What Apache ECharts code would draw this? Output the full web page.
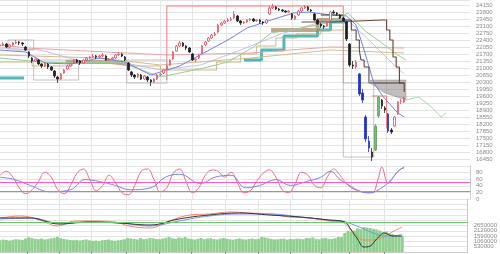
<!DOCTYPE html>
<html><head><meta charset="utf-8">
<script src="https://cdn.jsdelivr.net/npm/echarts@6/dist/echarts.min.js"></script>
<style>html,body{margin:0;padding:0;background:#fff}#c{width:500px;height:254px}</style>
</head><body><div id="c"></div>
<script>
// ---------- DATA ----------
const monthStarts = [17,37,57,79,100,120,141,162,182,201,219,241];
const monthLabels = ['5','6','7','8','9','10','11','12','1','2','3','4'];
// daily candles sampled every 2 trading days: [open, close, low, high]
const ohlc = [
[22100,22150,22050,22250],[22150,22200,22100,22300],[22200,22050,22000,22250],[22050,22150,22000,22200],
[22150,22250,22100,22300],[22250,22300,22200,22400],[22300,22250,22150,22350],[22250,22200,22100,22300],
[22050,21900,21850,22100],[21800,21600,21500,21850],[21500,21350,21250,21550],[21350,21450,21300,21500],
[21400,21200,21150,21450],[21200,21100,21000,21250],[21100,21250,21050,21300],[21200,21050,20950,21250],
[21050,20900,20850,21100],[20850,20600,20500,20900],[20550,20450,20250,20600],[20450,20700,20400,20750],
[20750,20900,20700,20950],[20950,21100,20900,21150],[21100,21200,21050,21250],[21250,21400,21200,21450],
[21400,21300,21250,21450],[21350,21250,21150,21400],[21250,21400,21200,21450],[21400,21500,21350,21550],
[21500,21550,21450,21600],[21550,21600,21500,21700],[21600,21550,21450,21650],[21550,21600,21500,21650],
[21600,21650,21550,21750],[21600,21400,21350,21650],[21400,21450,21350,21500],[21450,21500,21400,21550],
[21500,21650,21450,21700],[21650,21700,21600,21800],[21700,21600,21550,21750],[21550,21400,21350,21600],
[21250,20900,20850,21300],[20800,20650,20550,20850],[20650,20550,20450,20700],[20550,20700,20500,20750],
[20650,20450,20400,20700],[20450,20600,20400,20650],[20550,20400,20300,20600],[20400,20300,20100,20450],
[20300,20450,20250,20500],[20450,20650,20400,20700],[20650,20700,20600,20750],[20750,20900,20700,20950],
[20950,21100,20900,21150],[21150,21400,21100,21450],[21450,21800,21400,21850],[21850,22100,21800,22150],
[22100,22250,22050,22350],[22250,22100,22050,22300],[22100,22000,21900,22150],[22000,21800,21750,22050],
[21700,21400,21350,21750],[21400,21450,21300,21500],[21500,21650,21450,21700],[21750,22100,21700,22150],
[22150,22300,22100,22350],[22350,22500,22300,22550],[22500,22650,22450,22700],[22650,22700,22600,22800],
[22800,23150,22750,23200],[23150,23250,23100,23300],[23250,23350,23200,23400],[23350,23400,23300,23500],
[23400,23450,23350,23550],[23500,23700,23450,23850],[23600,23350,23300,23650],[23350,23250,23150,23400],
[23250,23300,23200,23350],[23300,23400,23250,23450],[23400,23450,23350,23500],[23450,23350,23300,23500],
[23350,23400,23300,23450],[23400,23300,23200,23450],[23300,23250,23150,23350],[23250,23400,23200,23450],
[23700,24000,23650,24100],[24000,24050,23950,24200],[24050,23950,23900,24100],[23950,23900,23850,24000],
[23900,23850,23800,23950],[23850,23800,23750,23900],[23800,23850,23750,23900],[23700,23500,23400,23750],
[23450,23600,23400,23650],[23650,23850,23600,23900],[23850,24000,23800,24050],[24000,24050,23950,24150],
[24050,23900,23850,24100],[23900,23850,23800,23950],[23700,23400,23350,23750],[23400,23200,23150,23450],
[23200,23100,23000,23250],[23100,23050,22950,23150],[23100,23300,23050,23350],[23400,23800,23350,23850],
[23800,23750,23700,23900],[23750,23700,23600,23800],[23650,23500,23450,23700],[23500,23350,23300,23550],
[23300,22450,22350,23350],[22200,21150,21050,22250],[21150,21100,20950,21350],[21050,21300,20950,21400],
[20700,19700,19600,20750],[19750,19400,19250,19950],[18550,17450,17300,18650],[17350,17000,16800,17600],
[16800,16550,16350,17000],[16900,18100,16850,18200],[18600,19550,18500,19600],[19400,19100,18950,19450],
[19000,18900,18750,19100],[18700,17850,17750,18750],[17900,17800,17700,18000],[18100,18550,18050,18600],
[18700,19300,18650,19350],[19350,19350,19200,19450],[19300,19500,19250,19550]
];
const volume = [
118,124,120,115,122,128,125,121,135,148, 140,132,128,135,126,130,138,142,150,138,
130,125,120,118,122,115,120,125,118,112, 115,110,118,120,125,116,112,118,122,128,
140,135,130,125,138,128,132,140,136,130, 128,135,142,150,138,132,145,140,150,135,
130,125,132,140,128,135,138,130,126,134, 140,132,128,124,130,136,128,125,130,135,
128,132,150,145,138,130,126,128,132,135, 124,130,128,135,132,128,140,138,145,132,
128,136,140,132,130,138,150,148,190,210, 205,215,235,228,250,245,240,232,225,215,
200,205,190,180,170,165,160
];
// moving averages / indicator lines: [tradingDay, value]
const ma25 = [[0,21900],[16,21800],[28,21250],[44,21200],[62,21500],[78,21300],[94,20650],[100,20800],[112,21100],[127,21750],[142,22400],[154,23000],[169,23400],[183,23750],[192,23800],[206,23650],[216,23600],[222,23150],[227,21900],[233,20250],[239,19550],[248,18750],[252,18550]];
const ma75 = [[0,21500],[25,21300],[50,21250],[75,21300],[100,20550],[127,21000],[142,21300],[158,22050],[169,22750],[188,23000],[204,23250],[217,23750],[227,22900],[238,22250],[248,21650],[253,21400]];
const ma200 = [[0,22150],[17,22000],[104,21650],[156,21750],[206,22050],[252,22000]];
const ma100 = [[0,21650],[62,21500],[100,21150],[156,21500],[206,21900],[252,21750]];
const ma13w = [[0,22000],[25,21900],[50,21350],[75,21300],[100,20900],[125,21150],[150,21900],[175,22700],[200,23300],[216,23450],[230,22400],[245,21200],[252,20700]];
const cloudLineA = [[0,20500],[15,20500]];
const cloudLineB = [[152,21400],[163,21900],[177,22600],[198,22900],[206,23300],[216,23300]];
const cloudBandA = [[41,21300],[69,21200],[79,21200]];
const cloudBandB = [[169,22900],[198,23400],[214,23400]];
const spanB = [[0,21300],[20,21100],[45,21250],[80,21100],[100,20900],[120,20900],[135,21300],[150,21700],[160,22100],[172,22500],[185,22700],[200,22900],[214,23100]];
const kijun = [[188,23300],[206,23400],[239,23400],[241,22900],[243,22400],[245,21550],[247,21050],[249,20250],[252,19800]];
const tenkan = [[200,23650],[214,23400],[219,22900],[222,22400],[224,21900],[225,21400],[227,21050],[230,20250],[252,20250]];
const spanTop = [[231,20400],[253,20400]];
const spanBottom = [[231,20250],[240,19750],[253,19400]];
const spanLead = [[253,19400],[261,19550],[269,19050],[275,18550],[278,18750]];
// box ranges: [t1, price1, t2, price2]
const grayBoxes = [[5,22400,21,21900],[21,21400,49,20400],[79,21400,104,20250],[214,20250,233,16550]];
const redBox = [[104,20400],[104,24100],[214,24100],[214,20250]];
const redBox2 = [[232,19600],[241,19600],[241,18000]];
// oscillator
const oscFast = [[0,72],[4,84],[8,66],[12,34],[16,16],[20,28],[24,53],[28,81],[32,66],[36,28],[40,16],[44,41],[48,78],[52,91],[56,59],[60,25],[64,41],[68,72],[72,50],[76,19],[80,13],[84,41],[88,84],[92,91],[96,59],[100,22],[104,34],[108,78],[112,91],[116,53],[120,19],[124,34],[128,72],[132,88],[136,84],[140,66],[144,81],[148,50],[152,19],[156,25],[160,53],[164,78],[168,88],[172,66],[176,28],[180,19],[184,47],[188,81],[192,72],[196,41],[200,34],[204,66],[208,91],[212,72],[216,47],[220,31],[224,25],[228,19],[232,19],[236,66],[238,97],[242,47],[246,72],[250,91],[252,94]];
const oscSlow = [[0,66],[9,59],[19,41],[31,22],[44,28],[53,59],[62,53],[72,41],[81,28],[94,34],[103,66],[112,75],[125,47],[134,66],[144,72],[153,34],[162,41],[172,59],[181,41],[191,53],[200,66],[206,84],[212,59],[219,38],[225,22],[231,19],[237,31],[244,59],[248,84],[252,97]];
const oscLevels = [50,25];
// MACD-type lines in the volume pane
const macdA = [[0,4],[13,6],[25,2],[36,-4],[47,1],[59,1],[72,0],[81,-4],[94,-6],[106,1],[119,7],[131,8],[144,10],[156,9],[169,8],[181,5],[194,4],[206,1],[214,0],[219,-6],[223,-13],[228,-18],[234,-18],[241,-14],[247,-9],[252,-5]];
const macdB = [[0,3],[19,4],[37,-1],[56,0],[75,-1],[94,-4],[112,1],[131,6],[150,8],[169,8],[188,5],[206,2],[214,1],[222,-3],[228,-7],[234,-11],[241,-14],[247,-14],[252,-12]];
const macdC = [[0,4],[19,4],[37,-2],[56,0],[75,-1],[94,-3],[112,3],[131,7],[150,9],[169,7],[188,5],[206,2],[216,0],[220,-8],[224,-17],[228,-25],[232,-24],[236,-17],[241,-11],[246,-14],[252,-14]];

// ---------- CHART ----------
const N = 294;
const cats = Array.from({length:N},(_,i)=>{const k=monthStarts.indexOf(i);return k>=0?monthLabels[k]:'';});
const isMonth = i => monthStarts.indexOf(i) >= 0;
const blueT = [224,226,228,230,242], greenT = [234,236];
const candleData = ohlc.map((d,i)=>{
  const t=i*2, item={value:[t,...d]};
  if(blueT.includes(t)) item.itemStyle={color:'#2233cc',color0:'#2233cc',borderColor:'#2233cc',borderColor0:'#2233cc'};
  if(greenT.includes(t)) item.itemStyle={color:'#77c077',color0:'#77c077',borderColor:'#55a055',borderColor0:'#55a055'};
  return item;
});
const volData = volume.map((v,i)=>[i*2,v]);
const chart = echarts.init(document.getElementById('c'),null,{renderer:'canvas'});
const gl = '#e4e4e4', lab = {fontSize:6,color:'#8a8a8a',fontFamily:'Liberation Sans',margin:6};
function xAx(g){return {type:'category',gridIndex:g,data:cats,boundaryGap:false,
  axisLine:{show:g===2,lineStyle:{color:'#ccc'}},axisTick:{show:g===2,interval:isMonth,length:2,lineStyle:{color:'#888'}},
  axisLabel:{show:false},splitLine:{show:true,interval:isMonth,lineStyle:{color:gl,width:1}}};}
function line(data,color,w,opt){return Object.assign({type:'line',data,xAxisIndex:0,yAxisIndex:0,symbol:'none',silent:true,
  lineStyle:{color,width:w},z:2},opt||{});}
function poly(top,bottom,fill){
  return {type:'custom',xAxisIndex:0,yAxisIndex:0,silent:true,z:1,data:[[top[0][0],top[0][1]]],
    renderItem:(p,api)=>{const pts=top.map(q=>api.coord(q)).concat(bottom.slice().reverse().map(q=>api.coord(q)));
      return {type:'polygon',shape:{points:pts},style:{fill,stroke:'rgba(80,80,80,0.6)',lineWidth:0.5}};}};
}
const series = [
  poly(spanTop,spanBottom,'rgba(120,110,110,0.45)'),
  line(cloudLineA,'#4fb8b8',3,{step:'end'}),
  line(cloudLineB,'#4fb8b8',3,{step:'end'}),
  line(cloudBandA,'rgba(170,130,90,0.7)',4,{step:'end'}),
  line(cloudBandB,'rgba(170,130,90,0.7)',4,{step:'end'}),
  line(spanB,'#c0a870',0.8,{step:'end'}),
  line(ma200,'#eba3a3',1),
  line(ma100,'#d8b98a',1),
  line(ma13w,'#b9b0dd',0.8),
  line(ma75,'#92cf92',1),
  line(ma25,'#7080e8',1),
  line(kijun,'#6e4a38',1.2,{step:'end'}),
  line(tenkan,'#4e3a2c',1,{step:'end'}),
  line(spanLead,'#8fcf8f',0.8),
  line(redBox,'#f07a7a',1),
  line(redBox2,'#f07a7a',1),
  ...grayBoxes.map(b=>line([[b[0],b[1]],[b[2],b[1]],[b[2],b[3]],[b[0],b[3]],[b[0],b[1]]],'#a8a8a8',0.7)),
  {type:'candlestick',xAxisIndex:0,yAxisIndex:0,data:candleData,encode:{x:0,y:[1,2,3,4]},barWidth:2,z:5,silent:true,
   itemStyle:{color:'#ffffff',color0:'#222222',borderColor:'#e05060',borderColor0:'#222222',borderWidth:0.8}},
  line(oscFast,'#f06a80',1,{xAxisIndex:1,yAxisIndex:1,smooth:0.4,
    markLine:{silent:true,symbol:'none',label:{show:false},lineStyle:{color:'#ff5acd',width:1,type:'solid'},data:oscLevels.map(v=>({yAxis:v}))}}),
  line(oscSlow,'#7a86e6',1,{xAxisIndex:1,yAxisIndex:1,smooth:0.4}),
  {type:'bar',xAxisIndex:2,yAxisIndex:2,data:volData,barWidth:3,silent:true,itemStyle:{color:'#8fd08f'},z:1},
  line(macdA,'#f0866e',1,{xAxisIndex:2,yAxisIndex:3,smooth:0.4,
    markLine:{silent:true,symbol:'none',label:{show:false},lineStyle:{color:'#6cc66c',width:1,type:'solid'},data:[{yAxis:0}]}}),
  line(macdB,'#8090ea',1,{xAxisIndex:2,yAxisIndex:3,smooth:0.4}),
  line(macdC,'#333333',1,{xAxisIndex:2,yAxisIndex:3,smooth:0.4}),
];
chart.setOption({
  animation:false,backgroundColor:'#fff',
  grid:[{left:0,right:30,top:0,height:166},{left:0,right:30,top:166,height:33},{left:0,right:30,top:199,height:53}],
  xAxis:[xAx(0),xAx(1),xAx(2)],
  yAxis:[
    {type:'value',gridIndex:0,position:'right',min:16100,max:24400,interval:350,axisLine:{show:false},axisTick:{show:false},
      axisLabel:Object.assign({showMinLabel:false,showMaxLabel:false,formatter:v=>String(v)},lab),splitLine:{lineStyle:{color:gl}}},
    {type:'value',gridIndex:1,position:'right',min:0,max:100,interval:20,axisLine:{show:true,lineStyle:{color:'#ccc'}},axisTick:{show:false},
      axisLabel:Object.assign({showMinLabel:true,showMaxLabel:false,formatter:v=>String(v)},lab),splitLine:{lineStyle:{color:gl}}},
    {type:'value',gridIndex:2,position:'right',min:0,max:530,interval:53,axisLine:{show:true,lineStyle:{color:'#ccc'}},axisTick:{show:false},
      axisLabel:Object.assign({showMaxLabel:false,formatter:v=>v<=265?String(Math.round(v*10000)):''},lab),splitLine:{lineStyle:{color:gl}}},
    {type:'value',gridIndex:2,position:'right',min:-30,max:23,show:false,splitLine:{show:false}}
  ],
  series
});
</script></body></html>
